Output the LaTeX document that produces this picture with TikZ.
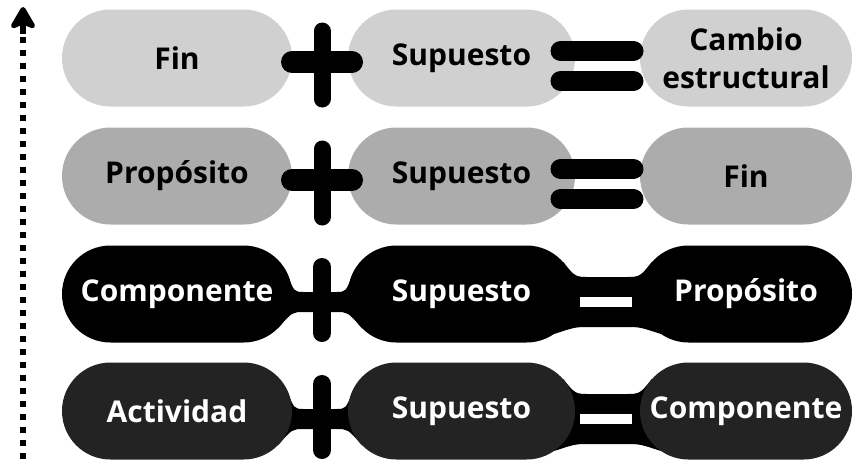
\documentclass[tikz,border=0pt]{standalone}
\usepackage{fontspec}
\setmainfont{Open Sans}
\usetikzlibrary{calc, positioning, arrows.meta, shapes.misc, backgrounds}

\definecolor{filaA}{HTML}{D0D0D0}
\definecolor{filaB}{HTML}{ACACAC}
\definecolor{filaC}{HTML}{000000}
\definecolor{filaD}{HTML}{232323}

\tikzset{
    pill/.style={rounded rectangle, minimum height=97pt, inner sep=0pt, align=center,
        font=\fontsize{30}{38}\selectfont\bfseries},
    barra/.style={line width=#1, line cap=round},
    banda/.style={line width=#1},
}

\begin{document}
\begin{tikzpicture}[x=1pt, y=-1pt]
    \useasboundingbox (0,0) rectangle (856,459);

    % 1. flecha punteada a la izquierda
    \coordinate (base) at (23,459);
    \coordinate (cuello) at (23,34);
    \coordinate (tope) at (23,7);
    \draw[line width=6pt, dash pattern=on 6pt off 7pt] (base) -- (cuello);
    \draw[line width=6pt, -{Stealth[width=30pt, length=26pt, inset=6pt, round]}] (cuello) -- (tope);

    % 2. las cuatro filas de cajas redondeadas
    \foreach \r/\y/\col/\tc/\a/\b/\c in {
        1/58/filaA/black/Fin/Supuesto/{Cambio\\estructural},
        2/176/filaB/black/Propósito/Supuesto/Fin,
        3/294/filaC/white/Componente/Supuesto/Propósito,
        4/411/filaD/white/Actividad/Supuesto/Componente} {
        \node[pill, fill=\col, text=\tc, minimum width=230pt] (L\r) at (177,\y) {\a};
        \node[pill, fill=\col, text=\tc, minimum width=227pt] (M\r) at (461.5,\y) {\b};
        \node[pill, fill=\col, text=\tc, minimum width=212pt] (R\r) at (746,\y) {\c};
        \coordinate (mas\r) at ($(L\r.east)!.5!(M\r.west)+(2,6)$);
        \coordinate (igual\r) at ($(M\r.east)!.5!(R\r.west)+(-11,0)$);
    }

    % 3. signos "+" y "=" negros (filas de arriba)
    \foreach \r in {1,2} {
        \draw[barra=17pt] ($(mas\r)+(0,-33)$) -- ($(mas\r)+(0,35)$);
        \draw[barra=22pt] ($(mas\r)+(-30,-2)$) -- ($(mas\r)+(30,-2)$);
        \draw[barra=20pt] ($(igual\r)+(-36,-7)$) -- ($(igual\r)+(37,-7)$);
        \draw[barra=20pt] ($(igual\r)+(-36,23)$) -- ($(igual\r)+(37,23)$);
    }

    % 4. uniones negras con "+" y "=" (filas de abajo)
    \foreach \r in {3,4} {
        \begin{scope}[on background layer]
        % cuello entre la primera y la segunda caja
        \fill ($(L\r.east)+(-5,-20)$) .. controls ($(L\r.east)+(2,-2)$) .. ($(L\r.east)+(12,-2)$)
            -- ($(M\r.west)+(-12,-2)$) .. controls ($(M\r.west)+(-2,-2)$) .. ($(M\r.west)+(5,-20)$)
            -- ($(M\r.west)+(14,34)$) .. controls ($(M\r.west)+(0,18)$) .. ($(M\r.west)+(-12,18)$)
            -- ($(L\r.east)+(12,18)$) .. controls ($(L\r.east)+(0,18)$) .. ($(L\r.east)+(-14,34)$)
            -- cycle;
        % cuello ancho entre la segunda y la tercera caja
        \fill ($(M\r.east)+(-12,-32)$) .. controls ($(M\r.east)+(0,-17)$) .. ($(M\r.east)+(15,-17)$)
            -- ($(R\r.west)+(-15,-17)$) .. controls ($(R\r.west)+(0,-17)$) .. ($(R\r.west)+(12,-32)$)
            -- ($(R\r.west)+(21,40)$) .. controls ($(R\r.west)+(0,33)$) .. ($(R\r.west)+(-15,33)$)
            -- ($(M\r.east)+(15,33)$) .. controls ($(M\r.east)+(0,33)$) .. ($(M\r.east)+(-21,40)$)
            -- cycle;
        \end{scope}
        \draw[barra=18pt] ($(mas\r)+(0,-33)$) -- ($(mas\r)+(0,33)$);
        \draw[banda=10pt, white] ($(M\r.east)+(5,8)$) -- ($(R\r.west)+(-8,8)$);
    }

\end{tikzpicture}
\end{document}
